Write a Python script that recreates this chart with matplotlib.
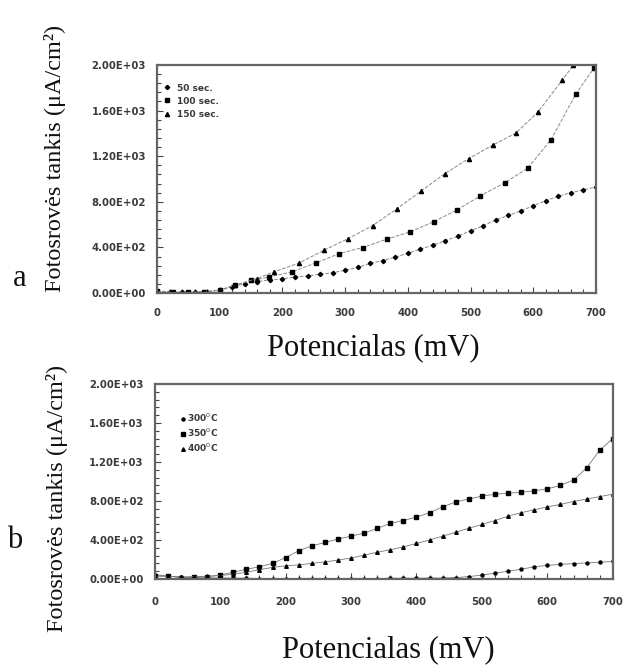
import numpy as np
import matplotlib
matplotlib.use("Agg")
from matplotlib import pyplot as plt
from matplotlib.ticker import MultipleLocator, FuncFormatter


#
# Data
#
# (a) photocurrent vs. potential for different deposition times
x_50s = [0, 20, 40, 60, 80, 100, 120, 140, 160, 180, 200, 220, 240, 260, 280, 300, 320, 340,
         360, 380, 400, 420, 440, 460, 480, 500, 520, 540, 560, 580, 600, 620, 640, 660, 680, 700]
y_50s = [20, 10, 8, 10, 12, 25, 55, 80, 100, 115, 125, 140, 150, 165, 178, 200, 225, 260,
         285, 315, 348, 385, 420, 460, 500, 545, 590, 640, 680, 720, 765, 810, 850, 880, 905, 930]

x_100s = [0, 25, 50, 75, 100, 125, 150, 178, 215, 253, 291, 328, 366, 404, 441, 478, 515,
          555, 591, 628, 668, 697]
y_100s = [15, 5, 5, 10, 25, 70, 110, 140, 185, 264, 346, 399, 472, 537, 625, 727, 850,
          968, 1094, 1343, 1745, 1974]

x_150s = [0, 25, 50, 75, 100, 125, 159, 186, 227, 266, 304, 344, 382, 421, 459, 497, 535,
          572, 607, 646, 664]
y_150s = [15, 5, 5, 10, 25, 70, 126, 185, 264, 375, 475, 592, 736, 894, 1047, 1179, 1296,
          1402, 1584, 1865, 2000]

# (b) photocurrent vs. potential for different annealing temperatures
x_T = [0, 20, 40, 60, 80, 100, 120, 140, 160, 180, 200, 220, 240, 260, 280, 300, 320, 340,
       360, 380, 400, 420, 440, 460, 480, 500, 520, 540, 560, 580, 600, 620, 640, 660, 680, 700]
y_300 = [45, 30, 20, 15, 12, 10, 10, 8, 5, 5, 5, 5, 5, 5, 5, 5, 5, 5,
         8, 8, 8, 10, 10, 15, 25, 40, 60, 80, 100, 125, 140, 150, 158, 165, 172, 180]
y_350 = [34, 30, 15, 20, 25, 40, 70, 100, 125, 160, 220, 290, 340, 375, 410, 440, 470, 520,
         570, 600, 635, 680, 740, 790, 820, 850, 870, 880, 890, 905, 925, 960, 1015, 1140, 1320, 1440]
y_400 = [27, 30, 20, 25, 28, 35, 50, 70, 95, 120, 135, 145, 160, 175, 195, 215, 245, 275,
         300, 330, 365, 400, 440, 480, 520, 560, 600, 645, 680, 710, 740, 765, 795, 820, 845, 870]

X_TICKS = [0, 100, 200, 300, 400, 500, 600, 700]
Y_TICKS = [0, 400, 800, 1200, 1600, 2000]

LABEL_FONT = "Liberation Serif"
TICK_FONT = "DejaVu Sans"


def sci_label(v, pos):
    # 1.20E+03 style, like a spreadsheet export
    if v == 0:
        return "0.00E+00"
    e = int(np.floor(np.log10(abs(v))))
    return "%.2fE+%02d" % (v / 10 ** e, e)


def style_axes(ax, xpad, ypad):
    ax.set_xlim(0, 700)
    ax.set_ylim(0, 2000)
    ax.set_xticks(X_TICKS)
    ax.set_yticks(Y_TICKS)
    ax.xaxis.set_minor_locator(MultipleLocator(20))
    ax.yaxis.set_minor_locator(MultipleLocator(80))
    ax.yaxis.set_major_formatter(FuncFormatter(sci_label))
    ax.tick_params(which="both", direction="in", color="#444444", width=0.8)
    ax.tick_params(which="major", length=4)
    ax.tick_params(which="minor", length=3)
    ax.tick_params(axis="x", pad=xpad)
    ax.tick_params(axis="y", pad=ypad)
    for lab in ax.get_xticklabels() + ax.get_yticklabels():
        lab.set_fontfamily(TICK_FONT)
        lab.set_fontsize(7.3)
        lab.set_fontweight("bold")
        lab.set_color("#3a3a3a")
    for s in ax.spines.values():
        s.set_color("#666666")
        s.set_linewidth(1.6)


fig = plt.figure(figsize=(6.24, 6.66), dpi=100)

#
# Panel a
#
ax1 = fig.add_axes([0.2516, 0.560, 0.7035, 0.3425])
ax1.plot(x_50s, y_50s, ls="--", lw=0.7, color="#888888", marker="D", ms=2.2,
         mfc="black", mec="black", label="50 sec.")
ax1.plot(x_100s, y_100s, ls="--", lw=0.7, color="#888888", marker="s", ms=3.5,
         mfc="black", mec="black", label="100 sec.")
ax1.plot(x_150s, y_150s, ls="--", lw=0.7, color="#888888", marker="^", ms=3.0,
         mfc="black", mec="black", label="150 sec.")
style_axes(ax1, xpad=11, ypad=8)
leg1 = ax1.legend(loc="upper left", frameon=False, handlelength=0.6, handletextpad=0.8,
                  labelspacing=0.45, borderaxespad=0.4, bbox_to_anchor=(0.0, 0.95),
                  prop={"family": TICK_FONT, "size": 6.5, "weight": "bold"})
for h in leg1.get_lines():
    h.set_linestyle("none")
for t in leg1.get_texts():
    t.set_color("#3a3a3a")

#
# Panel b
#
ax2 = fig.add_axes([0.248, 0.1306, 0.734, 0.2928])
ax2.plot(x_T, y_300, ls="-", lw=0.6, color="#777777", marker="o", ms=2.2,
         mfc="black", mec="black", label="300$^{0}$C")
ax2.plot(x_T, y_350, ls="-", lw=0.6, color="#777777", marker="s", ms=3.2,
         mfc="black", mec="black", label="350$^{0}$C")
ax2.plot(x_T, y_400, ls="-", lw=0.6, color="#777777", marker="^", ms=2.6,
         mfc="black", mec="black", label="400$^{0}$C")
style_axes(ax2, xpad=13, ypad=8)
leg2 = ax2.legend(loc="upper left", frameon=False, handlelength=0.4, handletextpad=0.2,
                  labelspacing=0.3, bbox_to_anchor=(0.04, 0.90),
                  prop={"family": TICK_FONT, "size": 6.5, "weight": "bold"})
for h in leg2.get_lines():
    h.set_linestyle("none")
for t in leg2.get_texts():
    t.set_color("#3a3a3a")

#
# Axis titles and panel letters
#
xlab = "Potencialas (mV)"
ylab = "Fotosrovės tankis (μA/cm²)"
fig.text(373 / 624, 1 - 348 / 666, xlab, family=LABEL_FONT, size=22,
         ha="center", va="center", color="#111111")
fig.text(388 / 624, 1 - 650 / 666, xlab, family=LABEL_FONT, size=22,
         ha="center", va="center", color="#111111")
fig.text(55 / 624, 1 - 158 / 666, ylab, family=LABEL_FONT, size=17.5, rotation=90,
         ha="center", va="center", color="#111111")
fig.text(57 / 624, 1 - 498 / 666, ylab, family=LABEL_FONT, size=17.5, rotation=90,
         ha="center", va="center", color="#111111")
fig.text(20 / 624, 1 - 279 / 666, "a", family=LABEL_FONT, size=22,
         ha="center", va="center", color="#111111")
fig.text(15 / 624, 1 - 541 / 666, "b", family=LABEL_FONT, size=22,
         ha="center", va="center", color="#111111")

fig.savefig("out.png", dpi=100)
